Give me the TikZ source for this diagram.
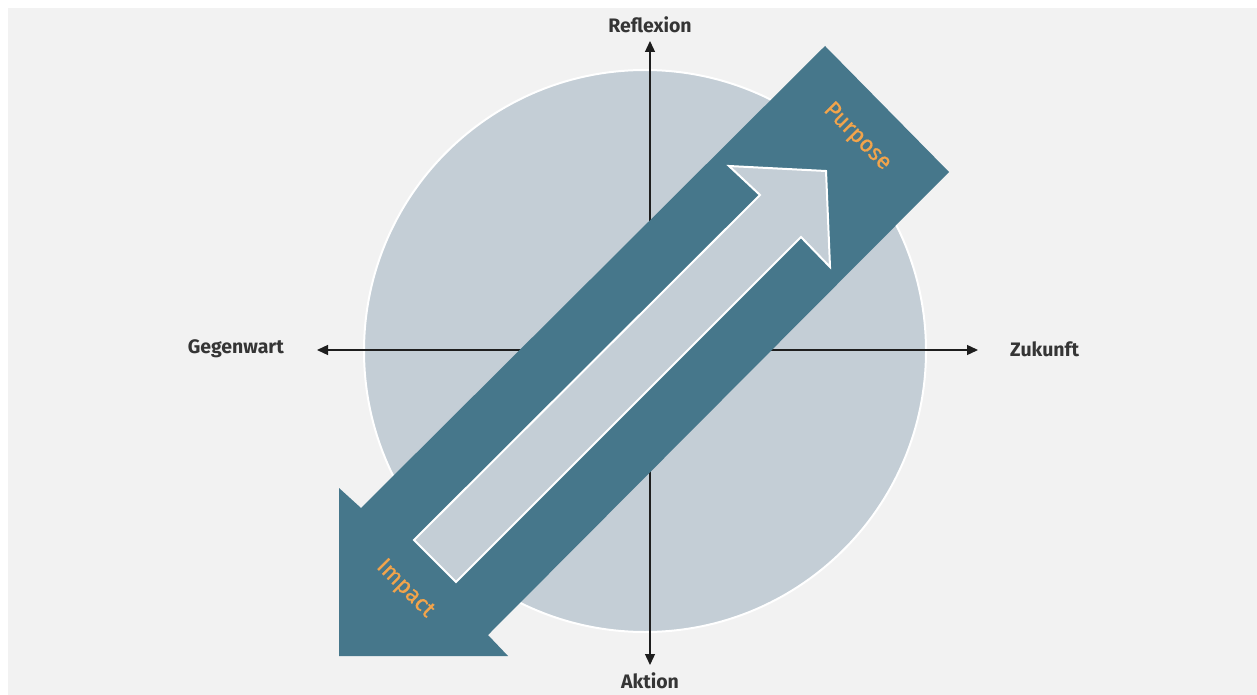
\documentclass[tikz,border=0pt]{standalone}
\usepackage{fontspec}
\setmainfont{Fira Sans}
\newfontfamily\medfont{Fira Sans}[FakeBold=0.5]
\usetikzlibrary{arrows.meta}
\definecolor{bgc}{HTML}{F2F2F2}
\definecolor{circc}{HTML}{C4CED6}
\definecolor{teal}{HTML}{46778B}
\definecolor{orng}{HTML}{F2A44B}
\definecolor{axc}{HTML}{1E1E1E}
\tikzset{
  axis/.style={draw=axc, line width=1.3pt, -{Triangle[length=11pt,width=10pt]}},
  axlabel/.style={font=\fontsize{19.5}{22}\selectfont\bfseries, text=axc!90, inner sep=0pt},
  arrlabel/.style={font=\fontsize{23}{26}\selectfont\medfont, text=orng, inner sep=0pt, rotate=-45},
}
\begin{document}
\begin{tikzpicture}[x=1pt,y=-1pt]
\useasboundingbox (0,0) rectangle (1257,695);
\fill[white] (0,0) rectangle (1257,695);
\fill[bgc] (8,8) rectangle (1257,695);
% circle
\node[circle, minimum size=562pt, fill=circc, draw=white, line width=2pt, inner sep=0pt] (circ) at (645,351) {};
% axes
\coordinate (c) at (650,350);
\coordinate (top) at (650,41);
\coordinate (bot) at (650,665);
\coordinate (lft) at (317,350);
\coordinate (rgt) at (978,350);
\draw[axis] (c) -- (top);
\draw[axis] (c) -- (bot);
\draw[axis] (c) -- (lft);
\draw[axis] (c) -- (rgt);
\node[axlabel] (refl) at (650,25) {Reflexion};
\node[axlabel] (akt) at (650,681) {Aktion};
\node[axlabel, anchor=east] (geg) at (284,349) {Gegenwart};
\node[axlabel, anchor=west] (zuk) at (1010,349) {Zukunft};
% big arrow
\fill[teal] (825,46) -- (949,172) -- (488,635) -- (508,656) -- (339,656) -- (339,488) -- (361,508) -- cycle;
% inner arrow
\filldraw[fill=circc, draw=white, line width=2pt, line join=miter]
  (414,540) -- (760,195) -- (729,166) -- (826,171) -- (830,267) -- (801,237) -- (456,582) -- cycle;
\node[arrlabel] (purp) at (857,137) {Purpose};
\node[arrlabel] (imp) at (405,589) {Impact};
\end{tikzpicture}
\end{document}
